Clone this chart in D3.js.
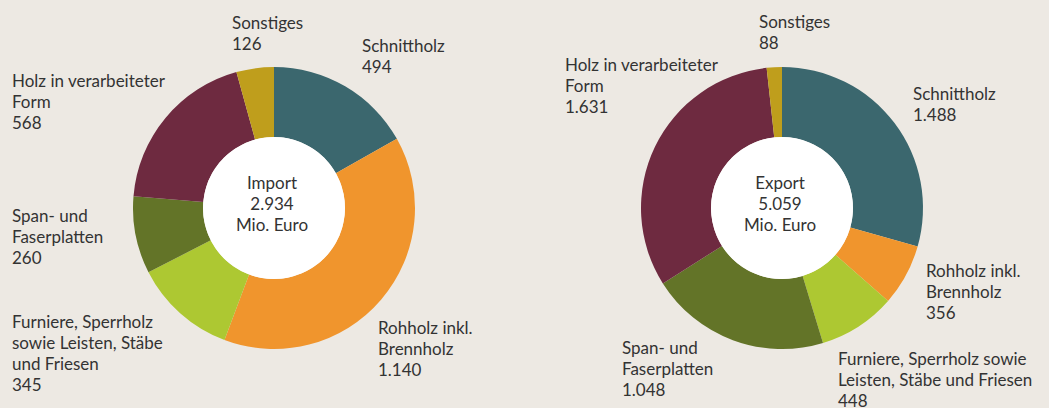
<!DOCTYPE html>
<html lang="de">
<head>
<meta charset="utf-8">
<script src="https://cdn.jsdelivr.net/npm/d3@7"></script>
<style>
  html, body { margin: 0; padding: 0; background: #ede9e3; }
  svg { display: block; }
  text { font-family: Lato, "Open Sans", sans-serif; fill: #333; }
</style>
</head>
<body>
<svg id="chart" width="1049" height="408"></svg>
<script>
// Warengruppen (Reihenfolge im Uhrzeigersinn ab 12 Uhr)
const categories = ["Schnittholz", "Rohholz inkl. Brennholz", "Furniere, Sperrholz sowie Leisten, Stäbe und Friesen",
                    "Span- und Faserplatten", "Holz in verarbeiteter Form", "Sonstiges"];
// Werte in Mio. Euro
const importValues = [494, 1140, 345, 260, 568, 126];
const exportValues = [1488, 356, 448, 1048, 1631, 88];
const importTotal = 2934;
const exportTotal = 5059;

// Zeilenumbrüche der Beschriftungen je Diagramm
const importLabelLines = [
  ["Schnittholz"],
  ["Rohholz inkl.", "Brennholz"],
  ["Furniere, Sperrholz", "sowie Leisten, Stäbe", "und Friesen"],
  ["Span- und", "Faserplatten"],
  ["Holz in verarbeiteter", "Form"],
  ["Sonstiges"]
];
const exportLabelLines = [
  ["Schnittholz"],
  ["Rohholz inkl.", "Brennholz"],
  ["Furniere, Sperrholz sowie", "Leisten, Stäbe und Friesen"],
  ["Span- und", "Faserplatten"],
  ["Holz in verarbeiteter", "Form"],
  ["Sonstiges"]
];

const colors = ["#3b676e", "#f0952d", "#adc832", "#637428", "#6e2a40", "#bf9e1c"];

// Layout
const importLayout = { cx: 274, cy: 208, labels: [[362, 51.5], [378, 334], [12, 328], [12, 222], [12, 87], [232, 29]] };
const exportLayout = { cx: 782, cy: 208, labels: [[913, 100], [926, 277], [838, 365], [622, 354], [565, 71], [759, 27.5]] };
const outerR = 141, innerR = 71, lineH = 21;

const de = d3.formatLocale({ decimal: ",", thousands: ".", grouping: [3], currency: ["", " €"] });
const fmt = de.format(",");

const svg = d3.select("#chart");
svg.append("rect").attr("width", 1049).attr("height", 408).attr("fill", "#ede9e3");

function donut(values, total, title, lines, layout) {
  const g = svg.append("g").attr("transform", `translate(${layout.cx},${layout.cy})`);
  const pie = d3.pie().sort(null).value(d => d);
  const arc = d3.arc().innerRadius(innerR).outerRadius(outerR);
  const arcs = pie(values);

  g.selectAll("path.slice").data(arcs).join("path")
    .attr("class", "slice")
    .attr("d", arc)
    .attr("fill", (d, i) => colors[i]);

  g.append("circle").attr("r", innerR).attr("fill", "#fff");

  const center = g.append("text").attr("text-anchor", "middle").style("font-size", "17px");
  [title, fmt(total), "Mio. Euro"].forEach((t, k) => {
    center.append("tspan").attr("x", -2).attr("y", -19 + k * lineH).text(t);
  });

  arcs.forEach((d, i) => {
    const [lx, ly] = layout.labels[i];
    const t = svg.append("text").attr("x", lx).attr("y", ly).style("font-size", "17px");
    const all = lines[i].concat([fmt(values[i])]);
    all.forEach((s, k) => t.append("tspan").attr("x", lx).attr("y", ly + k * lineH).text(s));
  });
}

donut(importValues, importTotal, "Import", importLabelLines, importLayout);
donut(exportValues, exportTotal, "Export", exportLabelLines, exportLayout);
</script>
</body>
</html>
